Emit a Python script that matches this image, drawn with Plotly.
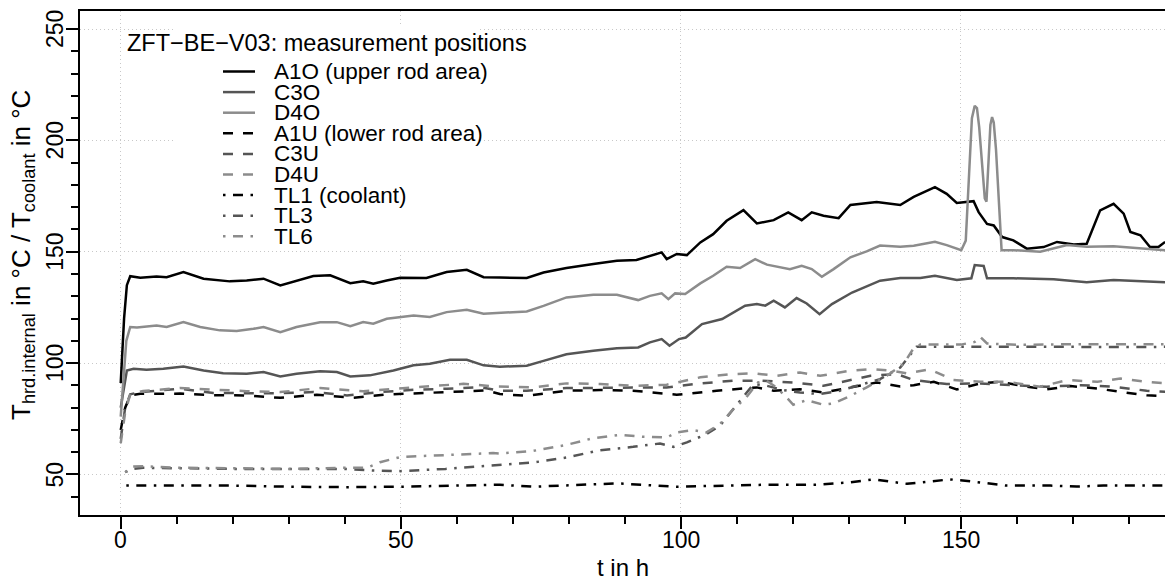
import plotly.graph_objects as go

# ---------------- data ----------------
t_A1O = [0, 0.6, 1.1, 1.7, 3.5, 6.4, 8.2, 11.2, 14.8, 16.5, 19.5, 22.5, 25.5, 28.5, 31.4, 34.4, 37.4, 41.0,
         43.3, 45.1, 47.5, 49.9, 54.6, 58.2, 61.8, 64.8, 67.7, 72.5, 75.5, 79.6, 84.4, 88.6, 92.1, 94.5, 96.6,
         97.5, 99.3, 101.1, 103.5, 105.8, 108.2, 111.2, 113.6, 116.6, 119.2, 121.6, 123.4, 125.5, 128.2, 130.3,
         135.0, 139.2, 141.6, 145.4, 147.5, 149.3, 152.3, 153.2, 154.7, 155.9, 157.4, 159.4, 161.8, 164.8,
         167.2, 170.2, 172.5, 174.9, 177.3, 179.1, 180.3, 182.1, 183.8, 185.3, 186.5]
T_A1O = [91, 120, 135, 139, 138.3, 138.9, 138.6, 140.9, 137.9, 137.4, 136.7, 137.1, 137.9, 134.9, 136.8, 139.1,
         139.4, 135.9, 136.7, 135.6, 137.1, 138.3, 138.2, 140.9, 141.9, 138.6, 138.4, 138.2, 140.7, 142.7, 144.5,
         146.0, 146.3, 148.2, 149.7, 146.7, 149.0, 148.5, 154.2, 157.9, 163.9, 168.7, 162.7, 164.2, 167.7, 164.2,
         167.7, 166.2, 165.1, 171.0, 172.3, 171.0, 174.6, 179.0, 176.0, 171.9, 172.7, 167.8, 162.5, 161.8, 156.6,
         155.1, 151.4, 152.1, 154.4, 153.3, 153.6, 168.6, 171.5, 167.1, 158.9, 157.4, 152.1, 152.1, 154.4]

t_C3O = [0, 0.6, 1.1, 2.3, 4.6, 7.6, 11.2, 14.8, 18.3, 22.5, 25.5, 28.5, 31.4, 35.6, 38.6, 41.0, 44.5, 48.7,
         52.3, 55.2, 58.8, 61.8, 64.8, 67.7, 72.5, 75.5, 79.6, 84.4, 88.6, 92.4, 94.5, 96.6, 98.0, 99.7, 100.9,
         103.8, 107.4, 111.5, 113.6, 115.1, 116.6, 118.6, 120.7, 122.5, 124.8, 127.0, 130.6, 135.6, 139.2,
         142.8, 145.4, 149.3, 151.9, 152.5, 154.1, 154.7, 159.4, 166.6, 172.5, 177.3, 186.5]
T_C3O = [80, 90, 96.7, 97.5, 97.0, 97.5, 98.5, 96.7, 95.5, 95.2, 96.0, 94.0, 95.2, 96.3, 96.0, 94.0, 94.5, 96.7,
         99.0, 99.7, 101.5, 101.5, 99.0, 98.4, 98.8, 101.0, 104.0, 105.5, 106.7, 107.0, 109.3, 110.8, 107.8,
         110.8, 111.5, 117.5, 119.8, 125.8, 126.5, 125.8, 128.0, 125.0, 129.2, 126.8, 122.0, 126.5, 131.7,
         137.0, 138.2, 138.2, 139.2, 137.3, 138.1, 144.0, 143.6, 138.1, 138.1, 137.6, 136.3, 137.3, 136.3]

t_D4O = [0, 0.5, 1.0, 1.7, 2.9, 6.4, 8.2, 11.2, 14.2, 17.7, 20.7, 23.7, 25.5, 28.5, 31.4, 35.6, 38.6, 41.0,
         43.3, 45.1, 47.5, 52.3, 55.2, 58.2, 61.8, 64.8, 67.7, 72.5, 75.5, 79.6, 84.4, 88.6, 92.4, 94.5, 96.6,
         97.8, 99.0, 100.8, 103.5, 105.8, 108.2, 110.6, 113.3, 115.4, 119.5, 121.6, 123.4, 125.2, 127.3, 130.3,
         133.2, 135.6, 139.2, 141.6, 145.4, 147.5, 150.1, 150.9, 151.5, 152.0, 152.5, 152.9, 153.3, 153.8,
         154.3, 154.6, 154.9, 155.3, 155.6, 155.9, 156.3, 156.8, 157.3, 159.4, 164.2, 169.0, 172.5, 177.3,
         182.1, 186.5]
T_D4O = [76, 95, 110, 116.2, 116.0, 116.9, 116.2, 118.4, 116.2, 114.7, 114.4, 115.4, 116.2, 113.9, 116.2, 118.3,
         118.4, 116.6, 118.4, 117.7, 119.9, 121.4, 120.7, 122.9, 124.0, 122.2, 122.7, 123.2, 125.7, 129.5, 130.7,
         130.7, 128.3, 130.2, 131.3, 128.7, 131.3, 131.0, 135.8, 139.2, 143.3, 142.7, 146.7, 144.2, 142.2, 143.7,
         142.2, 138.8, 142.2, 147.5, 150.2, 152.8, 152.3, 152.7, 154.5, 153.0, 150.7, 155.0, 185.0, 210.0,
         215.5, 214.5, 206.0, 188.0, 174.0, 172.5, 190.0, 207.0, 210.5, 208.0, 196.0, 170.0, 150.7, 150.7,
         150.0, 153.0, 152.2, 152.5, 151.5, 150.7]

t_A1U = [0, 0.8, 1.7, 3.5, 10.6, 16, 22, 28.5, 35, 41.5, 47.5, 53.5, 59.4, 65.3, 67.7, 72.5, 79.6, 85.6, 91.5,
         99.3, 106.4, 113.6, 116.6, 121.3, 125.5, 130.3, 135.0, 139.2, 141.6, 145.2, 149.3, 153.5, 157.0, 161.8,
         165.4, 169.6, 174.4, 178.5, 183.2, 186.5]
T_A1U = [70, 80, 85.5, 86.2, 86.3, 85.6, 85.5, 84.4, 85.8, 84.4, 85.9, 86.5, 87.4, 87.7, 86.1, 85.3, 87.6, 87.9,
         87.6, 85.8, 87.6, 89.1, 87.6, 88.3, 86.8, 89.1, 91.3, 89.5, 90.1, 91.6, 88.2, 90.9, 91.6, 89.4, 88.2,
         89.7, 88.6, 87.1, 85.6, 85.2]

t_C3U = [0, 0.8, 1.7, 3.5, 10.6, 16.5, 22.5, 28.5, 34.4, 40.4, 46.3, 52.3, 58.2, 64.2, 67.7, 72.5, 79.6, 88.6,
         97.5, 103.5, 109.4, 114.2, 120.1, 125.5, 129.7, 133.9, 138.6, 141.6, 147.5, 153.5, 159.4, 165.4, 171.4,
         177.3, 183.2, 186.5]
T_C3U = [66, 80, 86, 87, 88.5, 86.6, 86.5, 86.5, 87, 85.5, 87, 88, 88.5, 89.2, 87.6, 87.6, 88.8, 89.1, 89.1,
         90.9, 92.1, 92.1, 91.3, 89.8, 92.1, 94.3, 95.1, 92.4, 90.6, 90.9, 90.1, 89.4, 90.1, 89.4, 87.6, 87.1]

t_D4U = [0, 0.8, 1.7, 4, 10.6, 16.5, 22.5, 28.5, 35.6, 43.3, 49.3, 55.2, 58.2, 61.2, 67.1, 73.7, 79.6, 85.6,
         91.5, 97.5, 103.5, 109.4, 113.0, 117.1, 121.3, 124.9, 130.3, 134.4, 138.0, 140.4, 144.5, 148.7, 153.5,
         158.2, 164.2, 169.0, 174.4, 178.5, 183.2, 186.5]
T_D4U = [64, 78, 86, 87.5, 88.8, 88, 87.4, 87, 88.8, 87.4, 88.5, 89.5, 90, 90.7, 89.5, 89.1, 90.9, 90.6, 89.8,
         90.3, 93.6, 95.1, 95.4, 94.3, 95.8, 94.3, 96.6, 97.3, 96.5, 95.4, 97.2, 92.4, 91.6, 91.6, 89.4, 92.4,
         91.6, 93.1, 91.6, 90.9]

t_TL1 = [1.0, 10, 20, 30, 40, 50, 60, 67.7, 73.7, 88.6, 99.3, 115.4, 124.3, 130.3, 134.4, 140.4, 148.1, 152.2,
         158.2, 166, 170.7, 175.5, 186.5]
T_TL1 = [45, 45.1, 45, 44.5, 44.3, 44.5, 45, 45.4, 44.5, 46, 44.5, 45.4, 45.4, 46.5, 47.8, 45.8, 47.8, 46.8,
         45, 45, 44.6, 45, 45]

t_TL3 = [0.8, 2, 4, 10, 20, 30, 40, 45, 50, 58, 67.7, 73.7, 79.6, 85.6, 91.5, 96.3, 98.7, 101.1, 104.6, 107,
         110.6, 113, 115.4, 118.3, 121.3, 124.9, 128.4, 132, 135.6, 139.2, 142.1, 150, 160, 170, 180, 186.5]
T_TL3 = [51, 52.5, 53, 52.8, 52.5, 52.5, 52.5, 51.8, 51.5, 52.5, 54.3, 55.4, 57.6, 60.9, 62.4, 63.9, 62.4, 64.4,
         68.1, 71.9, 83.1, 90.6, 89.8, 87.9, 86.8, 86.1, 87.6, 90.3, 92.8, 98, 107.3, 107.4, 107.2, 107.3, 107.2,
         107.3]

t_TL6 = [0.8, 2, 4, 10, 20, 30, 40, 44, 46.3, 49.9, 54, 58.2, 62, 66.5, 67.7, 73.7, 79.6, 84.4, 89.1, 93.3,
         97.5, 99.3, 102.2, 104.6, 107, 109.4, 111.7, 113.8, 115.3, 117.1, 118.9, 120.1, 122.5, 125.5, 127.3,
         130.3, 133.2, 136.8, 139.8, 141.5, 142.8, 150, 152.5, 153.5, 154.7, 160, 170, 180, 186.5]
T_TL6 = [51, 53.5, 53.7, 53, 52.8, 52.5, 53, 53, 55.5, 57.8, 58.3, 58.8, 59.2, 59.6, 59.4, 60.6, 63.3, 66.3,
         67.8, 66.9, 66.6, 68.9, 69.9, 68.9, 72.6, 79.3, 84.6, 91.3, 92.1, 89.1, 84.6, 81.3, 83.4, 81.3, 81.9,
         85.3, 89.1, 94.3, 99.6, 106.3, 108.3, 108.3, 109.5, 111.8, 108.8, 108.2, 108.5, 108.3, 108.5]

series_names = ["A1O (upper rod area)", "C3O", "D4O", "A1U (lower rod area)", "C3U", "D4U",
                "TL1 (coolant)", "TL3", "TL6"]
series_t = [t_A1O, t_C3O, t_D4O, t_A1U, t_C3U, t_D4U, t_TL1, t_TL3, t_TL6]
series_T = [T_A1O, T_C3O, T_D4O, T_A1U, T_C3U, T_D4U, T_TL1, T_TL3, T_TL6]

legend_title = "ZFT\u2212BE\u2212V03: measurement positions"
x_ticks = [0, 50, 100, 150]
x_tick_labels = ["0", "50", "100", "150"]
y_ticks = [50, 100, 150, 200, 250]
y_tick_labels = ["50", "100", "150", "200", "250"]

# ---------------- styles ----------------
BLACK, DARK, LIGHT = "#000000", "#555555", "#8c8c8c"
SOLID, DASHED, DOTDASH = "solid", "10px,10px", "2.5px,7.5px,10px,7.5px"
colors = [BLACK, DARK, LIGHT] * 3
dashes = [SOLID] * 3 + [DASHED] * 3 + [DOTDASH] * 3
LW = 2.5
FONT = "Liberation Sans, Arial, Helvetica, sans-serif"

W, H = 1165, 580
L, R, TOP, B = 80, 1165, 11, 515


def px(x):
    return (x - L) / (R - L)


def py(y):
    return (B - y) / (B - TOP)


fig = go.Figure()
for name, t, v, c, d in zip(series_names, series_t, series_T, colors, dashes):
    fig.add_trace(go.Scatter(x=t, y=v, mode="lines", name=name, showlegend=False,
                             line=dict(color=c, width=LW, dash=d)))

axis_common = dict(
    showline=True, linecolor="black", linewidth=2, mirror=True,
    ticks="outside", ticklen=12, tickwidth=2, tickcolor="black", showticklabels=False,
    showgrid=True, gridcolor="#c8c8c8", griddash="1px,3px", gridwidth=1, zeroline=False,
)
minor_common = dict(dtick=10, tick0=0, ticks="outside", ticklen=7, tickwidth=1.5,
                    tickcolor="black", showgrid=False)
fig.update_xaxes(range=[-7.27, 186.48], tickvals=x_ticks, minor=minor_common, **axis_common)
fig.update_yaxes(range=[31.8, 258.1], tickvals=y_ticks, minor=minor_common, **axis_common)
fig.update_yaxes(mirror=False)

tick_font = dict(family=FONT, size=23, color="black")
annotations = []
for v, lab in zip(x_ticks, x_tick_labels):
    annotations.append(dict(text=lab, xref="x", yref="paper", x=v, y=py(540), xanchor="center",
                            yanchor="middle", showarrow=False, font=tick_font))
for v, lab in zip(y_ticks, y_tick_labels):
    annotations.append(dict(text=lab, xref="paper", yref="y", x=px(55), y=v, textangle=-90,
                            xanchor="center", yanchor="middle", showarrow=False, font=tick_font))

shapes = [dict(type="rect", xref="paper", yref="paper", x0=px(173), x1=px(480), y0=py(250), y1=py(27),
               fillcolor="white", line=dict(width=0), layer="above")]
annotations.append(dict(text=legend_title, xref="paper", yref="paper", x=px(125), y=py(43),
                        xanchor="left", yanchor="middle", showarrow=False,
                        font=dict(family=FONT, size=23.5, color="black")))
for i, (name, c, d) in enumerate(zip(series_names, colors, dashes)):
    yc = 71.5 + 20.6 * i
    shapes.append(dict(type="line", xref="paper", yref="paper", x0=px(223), x1=px(255),
                       y0=py(yc), y1=py(yc), line=dict(color=c, width=LW, dash=d), layer="above"))
    annotations.append(dict(text=name, xref="paper", yref="paper", x=px(272), y=py(yc),
                            xanchor="left", yanchor="middle", showarrow=False,
                            font=dict(family=FONT, size=22.5, color="black")))

annotations.append(dict(text="T<sub>hrd.internal</sub> in °C / T<sub>coolant</sub> in °C",
                        xref="paper", yref="paper", x=px(23), y=py(255), textangle=-90,
                        xanchor="center", yanchor="middle", showarrow=False,
                        font=dict(family=FONT, size=26, color="black")))
annotations.append(dict(text="t in h", xref="paper", yref="paper", x=px(622.5), y=py(567),
                        xanchor="center", yanchor="middle", showarrow=False,
                        font=dict(family=FONT, size=24, color="black")))

fig.update_layout(
    width=W, height=H, autosize=False,
    margin=dict(l=L, r=W - R, t=TOP, b=H - B, pad=0),
    paper_bgcolor="white", plot_bgcolor="white",
    font=dict(family=FONT, color="black"),
    shapes=shapes, annotations=annotations, showlegend=False,
)

fig.write_html("out.html", config={"displayModeBar": False},
               post_script="document.body.style.margin='0';document.body.style.overflow='hidden';")
